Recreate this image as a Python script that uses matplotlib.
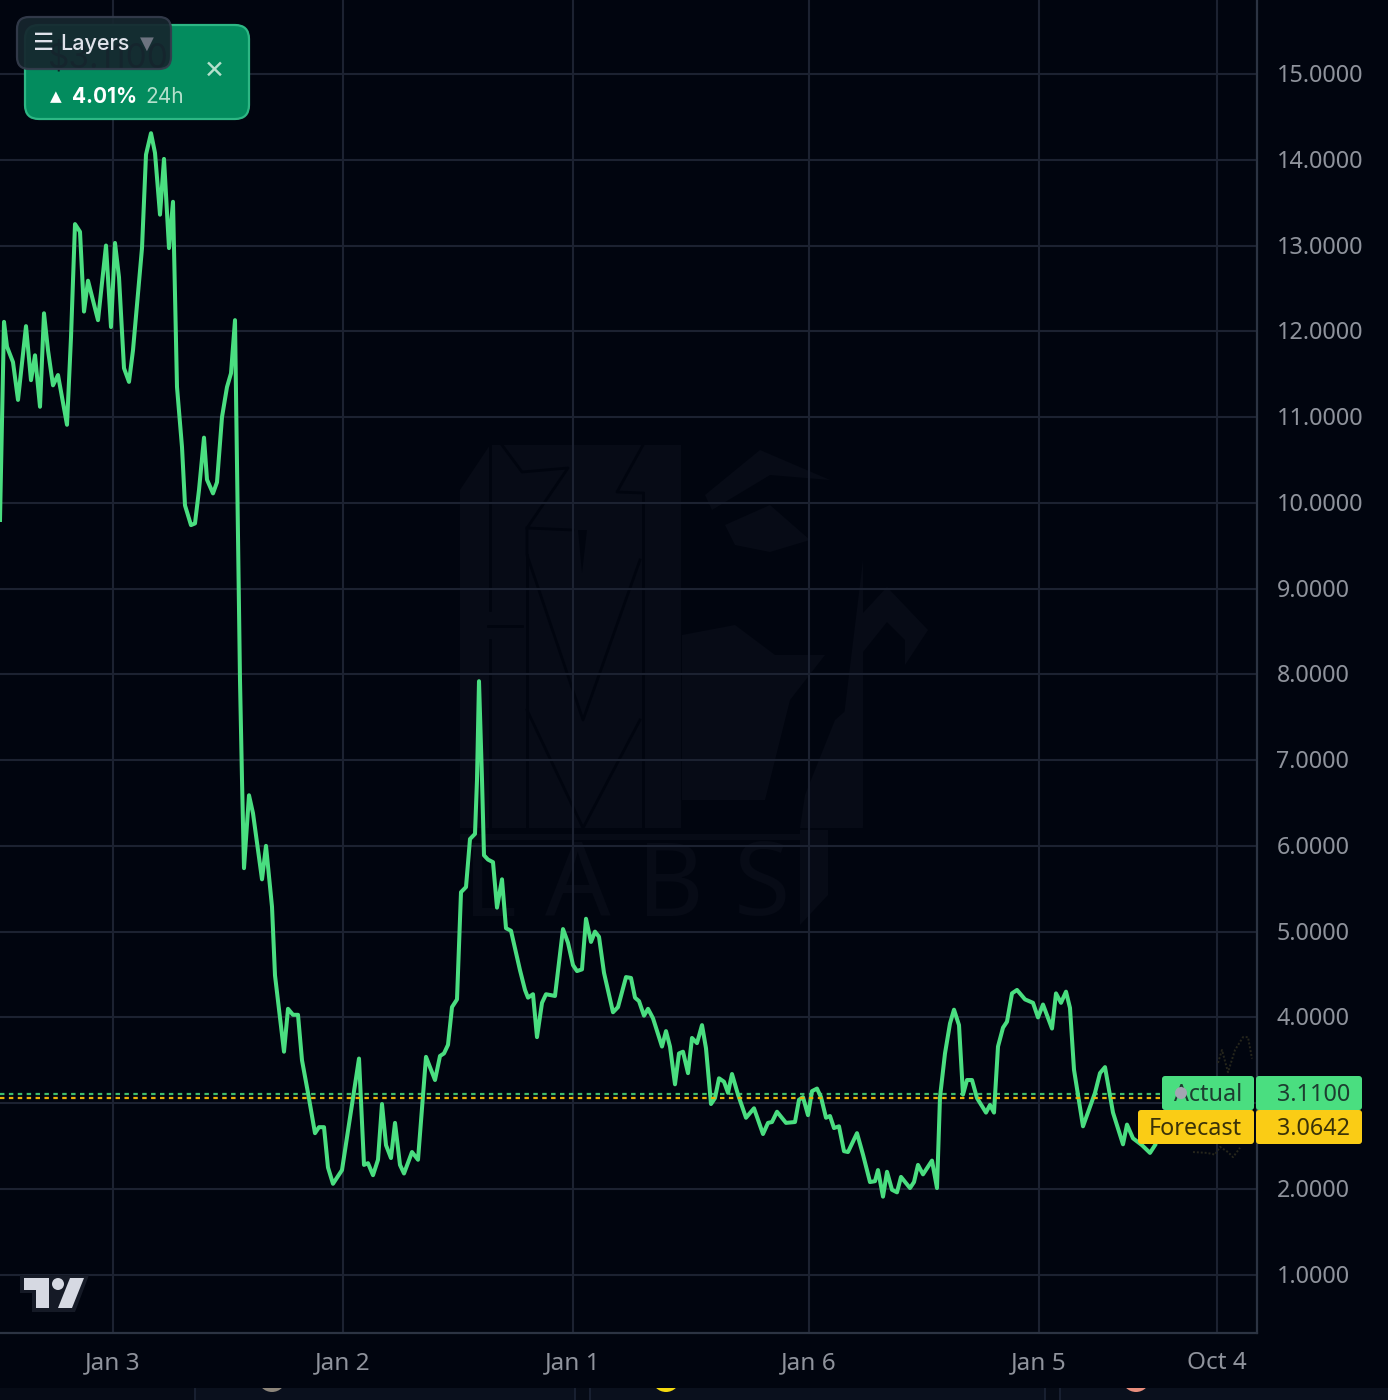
import matplotlib
matplotlib.use("Agg")
import matplotlib.pyplot as plt
from matplotlib.patches import Circle, FancyBboxPatch, Polygon, Rectangle
from matplotlib.transforms import ScaledTranslation

plt.rcParams['font.family'] = ['Noto Sans', 'DejaVu Sans']

# positions along the time axis (chart pixels, the axis has no usable date scale)
bar_pos = [0, 4, 7, 13, 18, 26, 31, 35, 40, 44, 48, 53, 58, 67, 71, 75, 80, 84, 88, 98,
           106, 111, 115, 119, 124, 129, 133, 142, 146, 151, 155, 160, 164, 169, 173, 177, 182, 185, 191, 195,
           199, 204, 207, 213, 217, 222, 227, 231, 235, 238, 240, 242, 244, 249, 253, 262, 266, 272, 275, 284,
           288, 293, 298, 302, 308, 315, 319, 324, 328, 333, 342, 359, 364, 368, 373, 378, 382, 386, 391, 395,
           400, 404, 412, 418, 426, 435, 440, 444, 448, 452, 457, 461, 466, 470, 475, 477, 479, 482, 484, 488,
           493, 497, 502, 506, 511, 520, 525, 528, 533, 537, 542, 546, 555, 563, 568, 573, 577, 582, 586, 591,
           595, 599, 604, 613, 618, 626, 631, 635, 639, 644, 648, 653, 662, 666, 670, 675, 679, 683, 688, 692,
           697, 702, 706, 711, 715, 719, 724, 728, 732, 738, 746, 754, 763, 768, 772, 777, 786, 795, 799, 803,
           808, 812, 817, 821, 826, 830, 834, 839, 844, 848, 857, 863, 870, 875, 878, 883, 887, 892, 897, 901,
           910, 914, 918, 923, 932, 937, 940, 945, 950, 954, 959, 963, 967, 972, 977, 986, 990, 994, 998, 1003,
           1007, 1012, 1017, 1025, 1033, 1038, 1043, 1052, 1056, 1061, 1066, 1070, 1074, 1083, 1095, 1100, 1105, 1113, 1123, 1127,
           1133, 1142, 1150, 1155]
price = [9.80, 12.11, 11.82, 11.64, 11.20, 12.06, 11.43, 11.72, 11.12, 12.21, 11.78, 11.37, 11.49, 10.91, 11.93, 13.25, 13.16, 12.23, 12.59, 12.13,
         13.00, 12.05, 13.03, 12.63, 11.57, 11.41, 11.78, 12.97, 14.06, 14.31, 14.08, 13.36, 14.01, 12.97, 13.51, 11.35, 10.65, 9.97, 9.74, 9.76,
         10.15, 10.76, 10.27, 10.11, 10.24, 11.00, 11.35, 11.51, 12.13, 9.57, 7.93, 6.77, 5.74, 6.59, 6.38, 5.61, 6.00, 5.29, 4.49, 3.60,
         4.10, 4.03, 4.03, 3.50, 3.12, 2.65, 2.72, 2.72, 2.25, 2.06, 2.22, 3.52, 2.28, 2.30, 2.16, 2.34, 2.99, 2.51, 2.36, 2.77,
         2.28, 2.18, 2.43, 2.34, 3.54, 3.27, 3.55, 3.58, 3.68, 4.12, 4.21, 5.46, 5.52, 6.08, 6.14, 6.77, 7.92, 6.77, 5.89, 5.84,
         5.81, 5.28, 5.61, 5.04, 5.01, 4.55, 4.32, 4.23, 4.27, 3.77, 4.17, 4.27, 4.25, 5.03, 4.87, 4.61, 4.54, 4.56, 5.15, 4.88,
         5.00, 4.94, 4.52, 4.06, 4.12, 4.47, 4.46, 4.23, 4.19, 4.02, 4.10, 3.99, 3.66, 3.84, 3.66, 3.22, 3.58, 3.60, 3.35, 3.76,
         3.70, 3.91, 3.64, 2.99, 3.06, 3.29, 3.25, 3.12, 3.34, 3.10, 2.83, 2.94, 2.64, 2.77, 2.78, 2.90, 2.77, 2.78, 3.04, 3.07,
         2.86, 3.14, 3.17, 3.07, 2.83, 2.85, 2.71, 2.73, 2.44, 2.43, 2.65, 2.40, 2.08, 2.09, 2.22, 1.91, 2.20, 1.99, 1.96, 2.14,
         2.01, 2.08, 2.28, 2.17, 2.33, 2.01, 3.07, 3.58, 3.93, 4.09, 3.91, 3.10, 3.27, 3.27, 3.06, 2.89, 2.98, 2.89, 3.66, 3.88,
         3.95, 4.28, 4.32, 4.21, 4.17, 4.00, 4.15, 3.87, 4.28, 4.17, 4.30, 4.11, 3.39, 2.73, 3.12, 3.35, 3.42, 2.89, 2.52, 2.75,
         2.59, 2.51, 2.42, 2.51]

# faint forecast traces that show right of the labels
upper_pos = [1218, 1222, 1228, 1235, 1243, 1248, 1252]
upper_price = [3.47, 3.62, 3.36, 3.62, 3.77, 3.77, 3.52]
lower_pos = [1193, 1207, 1215, 1220, 1228, 1233, 1240]
lower_price = [2.43, 2.42, 2.40, 2.49, 2.43, 2.37, 2.48]

actual = 3.11
forecast = 3.06

y_ticks = [1, 2, 3, 4, 5, 6, 7, 8, 9, 10, 11, 12, 13, 14, 15]
y_labels = ['1.0000', '2.0000', '', '4.0000', '5.0000', '6.0000', '7.0000', '8.0000',
            '9.0000', '10.0000', '11.0000', '12.0000', '13.0000', '14.0000', '15.0000']
x_ticks = [113, 343, 573, 809, 1039, 1217]
x_labels = ['Jan 3', 'Jan 2', 'Jan 1', 'Jan 6', 'Jan 5', 'Oct 4']

BG = '#01050f'
GRID = '#1c2231'
AXIS = '#2c3443'
TICK = '#8f939c'
GREEN = '#4ade80'
YELLOW = '#facc15'
MARK = '#070b16'

fig = plt.figure(figsize=(13.88, 14), dpi=100, facecolor=BG)

# watermark and page strip, in image pixels
back = fig.add_axes([0, 0, 1, 1], zorder=0)
back.set_xlim(0, 1388)
back.set_ylim(1400, 0)
back.axis('off')
shapes = [
    [(460, 490), (490, 445), (681, 445), (681, 828), (460, 828)],
    [(705, 495), (760, 450), (830, 480), (770, 475), (712, 510)],
    [(725, 525), (770, 505), (810, 540), (770, 552), (735, 545)],
    [(682, 635), (735, 625), (775, 655), (825, 655), (790, 700), (765, 800), (682, 800)],
    [(805, 795), (835, 720), (858, 700), (863, 828), (800, 828)],
    [(863, 560), (863, 613), (887, 587), (928, 630), (905, 665), (905, 640), (887, 622), (863, 652), (863, 828), (835, 790)],
    [(460, 834), (800, 834), (800, 840), (460, 840)],
    [(800, 830), (828, 830), (828, 895), (800, 925)],
]
for pts in shapes:
    back.add_patch(Polygon(pts, closed=True, fc=MARK, ec='none'))
cuts = [
    [(490, 445), (490, 610)], [(490, 640), (490, 828)], [(488, 626), (522, 626)],
    [(502, 445), (522, 472), (568, 468), (527, 528), (527, 555), (583, 720), (640, 560)],
    [(527, 528), (573, 530)], [(527, 555), (527, 828)],
    [(527, 710), (583, 828), (640, 720)], [(643, 493), (643, 828)],
    [(643, 445), (617, 492), (643, 493)],
]
for pts in cuts:
    back.plot([p[0] for p in pts], [p[1] for p in pts], color=BG, linewidth=2)
back.add_patch(Polygon([(578, 530), (587, 530), (582, 573)], closed=True, fc=BG, ec='none'))
for letter, lx in zip('LABS', [490, 578, 670, 762]):
    back.text(lx, 889, letter, color=MARK, fontsize=74, fontweight='bold', ha='center', va='center')


def box(target, x0, y0, x1, y1, fc, ec='none', r=5, lw=1.5, alpha=None, zorder=1):
    target.add_patch(FancyBboxPatch((x0 + r, y0 + r), x1 - x0 - 2 * r, y1 - y0 - 2 * r,
                                    boxstyle=f'round,pad={r},rounding_size={r}',
                                    fc=fc, ec=ec, lw=lw, alpha=alpha, zorder=zorder))


back.add_patch(Rectangle((0, 1388), 1388, 12, fc='#060b16', ec='none'))
for x0, x1 in [(195, 575), (590, 1045), (1060, 1420)]:
    box(back, x0, 1365, x1, 1430, '#0a101d', ec='#1c2436', r=16, lw=1.2)
for cx, cy, rad, col in [(227, 1382, 3, '#e8a317'), (272, 1378, 14, '#8c857a'), (666, 1378, 14, '#f4d90f'),
                         (1092, 1382, 3, '#e8720f'), (1136, 1378, 14, '#e88d7c')]:
    back.add_patch(Circle((cx, cy), rad, fc=col, ec='none'))
back.add_patch(Rectangle((0, 1333), 1388, 55, fc=BG, ec='none'))

# chart
ax = fig.add_axes([0, 67 / 1400, 1257 / 1388, 1333 / 1400], zorder=1)
ax.patch.set_alpha(0)
ax.set_xlim(0, 1257)
ax.set_ylim(0.32, 15.863)
ax.grid(True, color=GRID, linewidth=1.5)
ax.set_axisbelow(True)
ax.set_xticks(x_ticks)
ax.set_xticklabels(x_labels)
ax.set_yticks(y_ticks)
ax.set_yticklabels(y_labels)
ax.yaxis.tick_right()
ax.tick_params(axis='x', length=0, pad=13, labelsize=17.5, labelcolor=TICK)
ax.tick_params(axis='y', length=0, pad=14, labelsize=16.8, labelcolor=TICK)
nudge = ScaledTranslation(0, 1 / 100, fig.dpi_scale_trans)
for lab in ax.get_yticklabels():
    lab.set_transform(lab.get_transform() + nudge)
for side in ['top', 'left']:
    ax.spines[side].set_visible(False)
for side in ['right', 'bottom']:
    ax.spines[side].set_color(AXIS)
    ax.spines[side].set_linewidth(1.6)

ax.plot(upper_pos, upper_price, color='#26261c', linewidth=1.4, linestyle=(0, (1, 1)))
ax.plot(lower_pos, lower_price, color='#26261c', linewidth=1.4, linestyle=(0, (1, 1)))
ax.plot(bar_pos, price, color=GREEN, linewidth=2.9, solid_joinstyle='round', zorder=3)
ax.plot([0, 1165], [actual, actual], color=GREEN, linewidth=1.6, linestyle=(0, (2, 2)), alpha=0.85, zorder=4)
ax.plot([0, 1165], [forecast, forecast], color='#eab308', linewidth=1.6, linestyle=(0, (2, 2)), zorder=4)

# interface bits drawn over the chart, in image pixels
ui = fig.add_axes([0, 0, 1, 1], zorder=2)
ui.patch.set_alpha(0)
ui.set_xlim(0, 1388)
ui.set_ylim(1400, 0)
ui.axis('off')

# price labels
box(ui, 1162, 1076, 1254, 1110, GREEN, r=3)
box(ui, 1256, 1076, 1362, 1110, GREEN, r=3)
box(ui, 1138, 1110, 1254, 1144, YELLOW, r=3)
box(ui, 1256, 1110, 1362, 1144, YELLOW, r=3)
ui.text(1242, 1095, 'Actual', color='#1d3d30', fontsize=16.8, ha='right', va='center')
ui.text(1350, 1095, '3.1100', color='#1d3d30', fontsize=16.8, ha='right', va='center')
ui.text(1242, 1129, 'Forecast', color='#3a3208', fontsize=16.8, ha='right', va='center')
ui.text(1350, 1129, '3.0642', color='#3a3208', fontsize=16.8, ha='right', va='center')
ui.add_patch(Circle((1181, 1093), 6, fc='#a3a6b2', ec='none', zorder=5))

# top left badge and layers button
box(ui, 25, 25, 249, 119, '#038c5e', ec='#2db784', r=14, lw=1.6)
ui.text(48, 58, '$3.1100', color='#0a1f24', fontsize=24, family='Inter', va='center', zorder=3)
ui.text(50, 98, '▲', color='white', fontsize=11, va='center')
ui.text(72, 97, '4.01%', color='white', fontsize=15, fontweight='bold', family='Inter', va='center')
ui.text(145, 97, '24h', color='#b4e0cc', fontsize=15, family='Inter', va='center')
ui.text(214, 71, '✕', color='#b4e0cc', fontsize=18, ha='center', va='center')
box(ui, 17, 17, 171, 69, '#16262e', ec='#343c4c', r=12, lw=1.6, alpha=0.93, zorder=5)
ui.text(44, 44, '☰', color='#dfe2ea', fontsize=17, ha='center', va='center', zorder=6)
ui.text(60, 44, 'Layers', color='#dfe2ea', fontsize=15.5, family='Inter', fontweight='medium', va='center', zorder=6)
ui.text(147, 44, '▼', color='#6d7380', fontsize=13, ha='center', va='center', zorder=6)

# logo
ui.add_patch(Polygon([(20, 1275), (89, 1275), (75, 1312), (32, 1312), (32, 1293), (20, 1293)],
                     closed=True, fc='#151a26', ec='none'))
ui.add_patch(Polygon([(24, 1278), (49, 1278), (49, 1308), (36, 1308), (36, 1290), (24, 1290)],
                     closed=True, fc='#d6d9e2', ec='none'))
ui.add_patch(Circle((58, 1284), 6, fc='#d6d9e2', ec='none'))
ui.add_patch(Polygon([(70, 1278), (84, 1278), (72, 1308), (58, 1308)], closed=True, fc='#d6d9e2', ec='none'))

fig.savefig('out.png', dpi=100, facecolor=BG)
